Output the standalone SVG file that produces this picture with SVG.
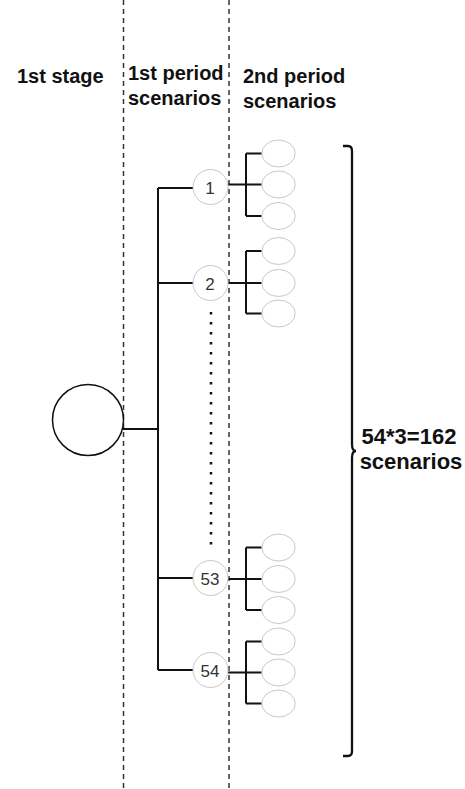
<svg xmlns="http://www.w3.org/2000/svg" width="465" height="789" viewBox="0 0 465 789">
<style>
.lbl{font-family:"Liberation Sans",Arial,sans-serif;font-weight:bold;font-size:20px;fill:#111}
.big{font-size:22px}
.num{font-family:"Liberation Sans",Arial,sans-serif;font-size:17px;fill:#333;text-anchor:middle;dominant-baseline:central}
.n1{fill:#fff;stroke:#c8c8c8;stroke-width:1}
.leaf{fill:#fff;stroke:#c8c8c8;stroke-width:1}
.dash{stroke:#333;stroke-width:1.5;stroke-dasharray:5 4;fill:none}
.conn{stroke:#111;stroke-width:2;fill:none}
</style>
<rect width="465" height="789" fill="#fff"/>
<g id="dividers">
<line class="dash" x1="123.5" y1="0" x2="123.5" y2="789"/>
<line class="dash" x1="229" y1="0" x2="229" y2="789"/>
</g>
<g id="labels">
<text class="lbl" x="17" y="83">1st stage</text>
<text class="lbl" x="128" y="80">1st period</text>
<text class="lbl" x="128" y="105">scenarios</text>
<text class="lbl" x="243" y="83">2nd period</text>
<text class="lbl" x="243" y="108">scenarios</text>
</g>
<g id="connectors">
<path class="conn" d="M122 429H158M158 188V670M158 188H193M158 283H193M158 578H193M158 670H193"/>
<path class="conn" d="M228 184.5H246M246 153.5V216M246 153.5H262M246 184.5H262M246 216H262"/>
<path class="conn" d="M228 283H246M246 251V313.5M246 251H262M246 283H262M246 313.5H262"/>
<path class="conn" d="M228 579H246M246 547.5V610M246 547.5H262M246 579H262M246 610H262"/>
<path class="conn" d="M228 672.5H246M246 641.5V703.5M246 641.5H262M246 672.5H262M246 703.5H262"/>
<line x1="211" y1="312" x2="211" y2="546" stroke="#111" stroke-width="2.5" stroke-dasharray="2.5 7.5"/>
</g>
<g id="root"><circle cx="88" cy="420" r="35.5" fill="#fff" stroke="#111" stroke-width="1.5"/></g>
<g id="s1"><circle class="n1" cx="210.5" cy="187" r="17.5"/><text class="num" x="210" y="188">1</text></g>
<g id="s2"><circle class="n1" cx="210.5" cy="283" r="17.5"/><text class="num" x="210" y="284">2</text></g>
<g id="s53"><circle class="n1" cx="210.5" cy="578" r="17.5"/><text class="num" x="210" y="579">53</text></g>
<g id="s54"><circle class="n1" cx="210.5" cy="670" r="17.5"/><text class="num" x="210" y="671">54</text></g>
<g id="leaves1">
<ellipse class="leaf" cx="278.5" cy="153.5" rx="16.7" ry="13.5"/>
<ellipse class="leaf" cx="278.5" cy="184.5" rx="16.7" ry="13.5"/>
<ellipse class="leaf" cx="278.5" cy="216" rx="16.7" ry="13.5"/>
</g>
<g id="leaves2">
<ellipse class="leaf" cx="278.5" cy="251" rx="16.7" ry="13.5"/>
<ellipse class="leaf" cx="278.5" cy="283" rx="16.7" ry="13.5"/>
<ellipse class="leaf" cx="278.5" cy="313.5" rx="16.7" ry="13.5"/>
</g>
<g id="leaves53">
<ellipse class="leaf" cx="278.5" cy="547.5" rx="16.7" ry="13.5"/>
<ellipse class="leaf" cx="278.5" cy="579" rx="16.7" ry="13.5"/>
<ellipse class="leaf" cx="278.5" cy="610" rx="16.7" ry="13.5"/>
</g>
<g id="leaves54">
<ellipse class="leaf" cx="278.5" cy="641.5" rx="16.7" ry="13.5"/>
<ellipse class="leaf" cx="278.5" cy="672.5" rx="16.7" ry="13.5"/>
<ellipse class="leaf" cx="278.5" cy="703.5" rx="16.7" ry="13.5"/>
</g>
<g id="brace">
<path d="M343 146H348Q352 146 352 151V444Q352 451 356 451Q352 451 352 458V751Q352 756 348 756H343" fill="none" stroke="#111" stroke-width="2.3"/>
<text class="lbl big" x="409" y="444" text-anchor="middle">54*3=162</text>
<text class="lbl big" x="411" y="469" text-anchor="middle">scenarios</text>
</g>
</svg>
